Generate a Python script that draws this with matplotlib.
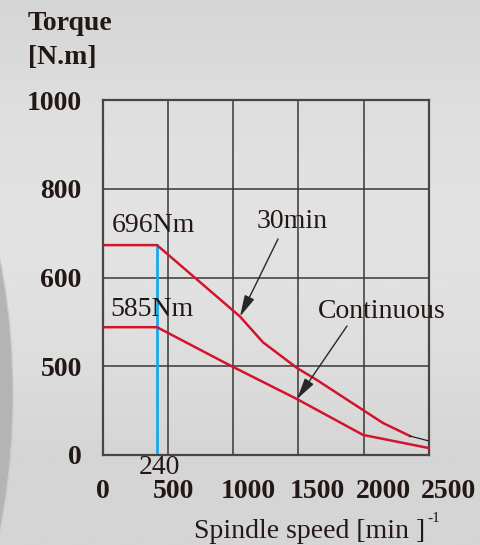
import numpy as np
import matplotlib
matplotlib.use("Agg")
import matplotlib.pyplot as plt
from matplotlib.patches import Ellipse
from matplotlib.transforms import blended_transform_factory

# ---- data ----
y_tick_values = [0, 500, 600, 800, 1000]
y_tick_labels = ["0", "500", "600", "800", "1000"]
x_grid = [0, 500, 1000, 1500, 2000, 2500]
x_tick_labels = ["0", "500", "1000", "1500", "2000", "2500"]
x_tick_label_pos = [0, 544, 1114, 1643, 2149, 2647]

speed_30min = [0, 416, 1052, 1228, 1489, 1642, 1995, 2148, 2354]
torque_30min = [673, 673, 556, 527, 490, 422, 253, 180, 107]
speed_30min_tail = [2354, 2500]
torque_30min_tail = [107, 79]

speed_cont = [0, 416, 975, 1489, 1995, 2500]
torque_cont = [544, 544, 501, 315, 113, 39]

base_speed = 416
base_speed_label = "240"

W, H = 480, 545
fig = plt.figure(figsize=(W / 100, H / 100), dpi=100)
fig.patch.set_facecolor("#dcdddd")

def fx(px):
    return px / W

def fy(py):
    return 1 - py / H

# background gradient
bg = fig.add_axes([0, 0, 1, 1], zorder=-10)
yy = np.linspace(0, 1, 200)[:, None]
grad = 0.835 + 0.05 * np.sin(np.pi * np.clip(yy * 1.2, 0, 1))
bg.imshow(np.repeat(grad, 10, axis=1), cmap="gray", vmin=0, vmax=1,
          aspect="auto", extent=[0, 1, 0, 1], origin="upper")
bg.add_patch(Ellipse((fx(-108), fy(395)), 2 * 121 / W, 2 * 300 / H,
                     facecolor="#b2b5b4", edgecolor="#c8caca", lw=1.0))
bg.set_xlim(0, 1)
bg.set_ylim(0, 1)
bg.axis("off")

left, right, top, bottom = 102.7, 429, 100, 455
ax = fig.add_axes([fx(left), fy(bottom), fx(right - left), (bottom - top) / H])
ax.set_facecolor("none")
ax.set_xlim(0, 2500)
ax.set_ylim(0, 4)

tick_pos = np.arange(len(y_tick_values))

def ymap(t):
    return np.interp(t, y_tick_values, tick_pos)

grid_c = "#3d3636"
for g in x_grid[1:-1]:
    ax.axvline(g, color=grid_c, lw=1.1, zorder=1)
for p in tick_pos[1:-1]:
    ax.axhline(p, color=grid_c, lw=1.1, zorder=1)
for s in ax.spines.values():
    s.set_color("#4a4444")
    s.set_linewidth(1.6)

red = "#d2142d"
ax.plot(speed_30min, ymap(np.array(torque_30min)), color=red, lw=1.8, zorder=3)
ax.plot(speed_30min_tail, ymap(np.array(torque_30min_tail)), color="#222222", lw=0.9, zorder=3)
ax.plot(speed_cont, ymap(np.array(torque_cont)), color=red, lw=1.8, zorder=3)
ax.plot([base_speed, base_speed], [0, ymap(torque_30min[1])], color="#1aa8ea", lw=2.0, zorder=2)

serif = ["Liberation Serif", "DejaVu Serif"]
tc = "#231815"
fs = 20

ax.set_yticks(tick_pos)
ax.set_yticklabels(y_tick_labels, fontfamily=serif, fontsize=fs, fontweight="bold", color=tc)
ax.tick_params(axis="y", length=0, pad=15)
ax.set_xticks([])

tr = blended_transform_factory(ax.transData, fig.transFigure)
for xp, lab in zip(x_tick_label_pos, x_tick_labels):
    ax.text(xp, fy(492), lab, transform=tr, ha="center", va="center",
            fontfamily=serif, fontsize=fs, fontweight="bold", color=tc, clip_on=False)
ax.text(base_speed + 20, fy(467), base_speed_label, transform=tr, ha="center", va="center",
        fontfamily=serif, fontsize=fs, color=tc, clip_on=False)

fig.text(fx(28), fy(24), "Torque", ha="left", va="center", fontfamily=serif,
         fontsize=fs, fontweight="bold", color=tc)
fig.text(fx(28), fy(58), "[N.m]", ha="left", va="center", fontfamily=serif,
         fontsize=fs, fontweight="bold", color=tc)

fig.text(fx(310), fy(531), "Spindle speed [min ]", ha="center", va="center",
         fontfamily=serif, fontsize=fs, color=tc)
fig.text(fx(434), fy(518), "-1", ha="center", va="center",
         fontfamily=serif, fontsize=11, color=tc)

fig.text(fx(153), fy(225), "696Nm", ha="center", va="center", fontfamily=serif,
         fontsize=fs, color=tc)
fig.text(fx(152), fy(310), "585Nm", ha="center", va="center", fontfamily=serif,
         fontsize=fs, color=tc)

fig.text(fx(292), fy(222), "30min", ha="center", va="center", fontfamily=serif,
         fontsize=fs, color=tc)
fig.text(fx(318), fy(311), "Continuous", ha="left", va="center", fontfamily=serif,
         fontsize=fs, color=tc)

arrow = dict(arrowstyle="-|>,head_length=1.3,head_width=0.32",
             color="#2a2626", lw=1.0, shrinkA=0, shrinkB=0)
ax.annotate("", xy=(1052, ymap(556)), xycoords="data",
            xytext=(fx(278), fy(239)), textcoords="figure fraction",
            arrowprops=arrow, zorder=5)
ax.annotate("", xy=(1489, ymap(315)), xycoords="data",
            xytext=(fx(347), fy(326)), textcoords="figure fraction",
            arrowprops=arrow, zorder=5)

fig.savefig("out.png", dpi=100, facecolor=fig.get_facecolor())
